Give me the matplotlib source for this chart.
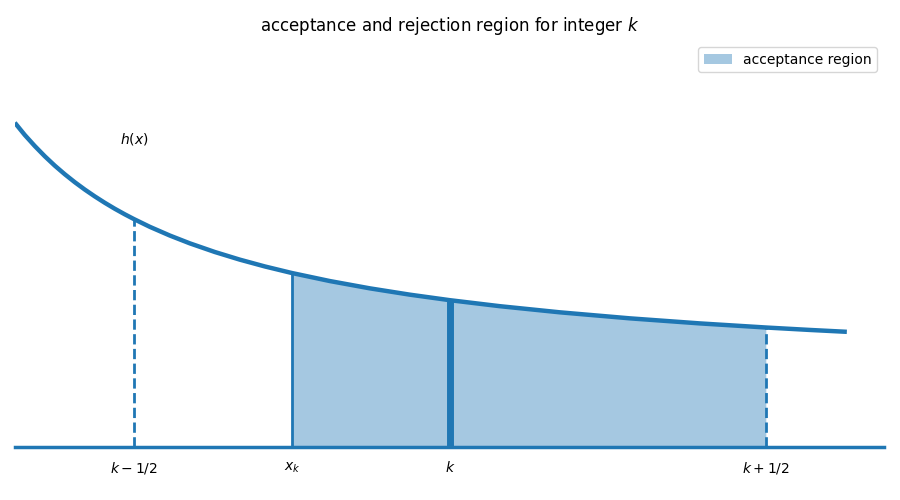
"""
Acceptance and rejection region for integer k.
Curve h(x) read off the reference picture, shaded acceptance region
between x_k and k + 1/2.
"""

import numpy as np
import matplotlib.pyplot as plt

# points on h(x) (k = 1)
x_curve = [0.3117, 0.3275, 0.3434, 0.3592, 0.3750, 0.3908, 0.4066, 0.4225,
           0.4383, 0.4541, 0.4699, 0.4858, 0.5, 0.5253, 0.5570, 0.5886,
           0.6282, 0.6677, 0.7073, 0.75, 0.8101, 0.8734, 0.9367, 1.0,
           1.0791, 1.1741, 1.2848, 1.3956, 1.5, 1.5696, 1.6282]
h_curve = [1.6215, 1.560, 1.5045, 1.4535, 1.4066, 1.3637, 1.3240, 1.2870,
           1.2529, 1.2210, 1.1912, 1.1633, 1.1399, 1.1009, 1.0573, 1.0183,
           0.9750, 0.9368, 0.9028, 0.870, 0.8298, 0.7933, 0.7617, 0.7341,
           0.7041, 0.6734, 0.6433, 0.6180, 0.5975, 0.5853, 0.5759]

# tick positions and labels
tick_pos = [0.5, 0.75, 1.0, 1.5]
tick_labels = ["$k-1/2$", "$x_k$", "$k$", "$k+1/2$"]

# key abscissae
K_LOW, X_K, K, K_HIGH = 0.5, 0.75, 1.0, 1.5

COLOR = "C0"


def h_at(x0):
    """Look up the read value of h at one of the listed abscissae."""
    return h_curve[x_curve.index(x0)]


def main():
    x = np.array(x_curve)
    h = np.array(h_curve)

    fig = plt.figure(figsize=(9, 5), dpi=100)
    ax = fig.add_axes([15 / 900, 53 / 500, 869 / 900, 407 / 500])

    # curve
    ax.plot(x, h, color=COLOR, linewidth=3.2, solid_capstyle="butt")

    # acceptance region
    mask = (x >= X_K) & (x <= K_HIGH)
    ax.fill_between(x[mask], 0, h[mask], color=COLOR, alpha=0.4,
                    linewidth=0, label="acceptance region")

    # vertical markers
    ax.vlines(K_LOW, 0, h_at(K_LOW), color=COLOR, linestyle="--", linewidth=2)
    ax.vlines(X_K, 0, h_at(X_K), color=COLOR, linewidth=2)
    ax.vlines(K, 0, h_at(K), color=COLOR, linewidth=5)
    ax.vlines(K_HIGH, 0, h_at(K_HIGH), color=COLOR, linestyle="--", linewidth=2)

    ax.text(K_LOW, 1.54, "$h(x)$", ha="center", va="center", fontsize=10)

    ax.set_xlim(0.312, 1.687)
    ax.set_ylim(0, 2.035)
    ax.set_xticks(tick_pos)
    ax.set_xticklabels(tick_labels, fontsize=10)
    ax.set_yticks([])
    ax.tick_params(axis="x", length=0, pad=9.5)

    for side in ("left", "top", "right"):
        ax.spines[side].set_visible(False)
    ax.spines["bottom"].set_color(COLOR)
    ax.spines["bottom"].set_linewidth(2.5)

    ax.set_title("acceptance and rejection region for integer $k$", fontsize=12, pad=6.5)
    ax.legend(loc="upper right", fontsize=10)

    fig.savefig("out.png", dpi=100)


if __name__ == "__main__":
    main()
